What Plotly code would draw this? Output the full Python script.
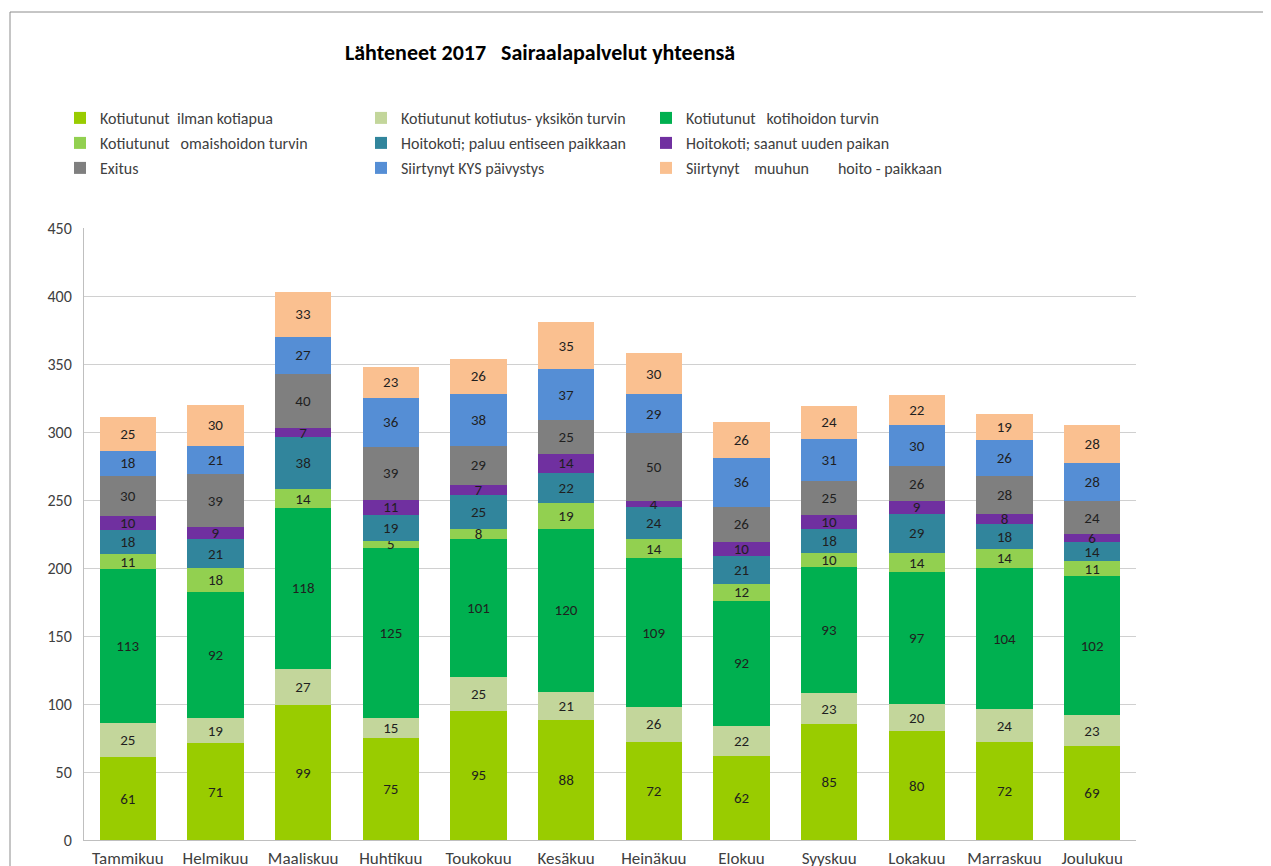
import plotly.graph_objects as go

# Months (x categories)
months = ["Tammikuu", "Helmikuu", "Maaliskuu", "Huhtikuu", "Toukokuu", "Kesäkuu",
          "Heinäkuu", "Elokuu", "Syyskuu", "Lokakuu", "Marraskuu", "Joulukuu"]

# Series values, bottom to top of each stack
ilman_kotiapua = [61, 71, 99, 75, 95, 88, 72, 62, 85, 80, 72, 69]
kotiutusyksikko = [25, 19, 27, 15, 25, 21, 26, 22, 23, 20, 24, 23]
kotihoito = [113, 92, 118, 125, 101, 120, 109, 92, 93, 97, 104, 102]
omaishoito = [11, 18, 14, 5, 8, 19, 14, 12, 10, 14, 14, 11]
hoitokoti_paluu = [18, 21, 38, 19, 25, 22, 24, 21, 18, 29, 18, 14]
hoitokoti_uusi = [10, 9, 7, 11, 7, 14, 4, 10, 10, 9, 8, 6]
exitus = [30, 39, 40, 39, 29, 25, 50, 26, 25, 26, 28, 24]
kys_paivystys = [18, 21, 27, 36, 38, 37, 29, 36, 31, 30, 26, 28]
muu_hoitopaikka = [25, 30, 33, 23, 26, 35, 30, 26, 24, 22, 19, 28]

sp = "\u00a0"
series = [
    ("Kotiutunut" + sp * 2 + "ilman kotiapua", ilman_kotiapua, "#99CC00"),
    ("Kotiutunut kotiutus- yksikön turvin", kotiutusyksikko, "#C3D69B"),
    ("Kotiutunut" + sp * 3 + "kotihoidon turvin", kotihoito, "#00B050"),
    ("Kotiutunut" + sp * 3 + "omaishoidon turvin", omaishoito, "#92D050"),
    ("Hoitokoti; paluu entiseen paikkaan", hoitokoti_paluu, "#31859C"),
    ("Hoitokoti; saanut uuden paikan", hoitokoti_uusi, "#7030A0"),
    ("Exitus", exitus, "#7F7F7F"),
    ("Siirtynyt KYS päivystys", kys_paivystys, "#558ED5"),
    ("Siirtynyt" + sp * 4 + "muuhun" + sp * 8 + "hoito - paikkaan", muu_hoitopaikka, "#FAC090"),
]

FONT = "Carlito, Open Sans, sans-serif"

fig = go.Figure()

# the page puts the figure 8px in from the top-left corner
OFF = 8
W, H = 1271 - OFF, 866 - OFF
L, T = 84 - OFF, 228 - OFF
R, B = W - (1136 - OFF), H - (840 - OFF)
pw, ph = W - L - R, H - T - B

# legend grid (page pixels): 3 columns x 3 rows
col_x = [100, 401, 686]   # where legend text starts
row_y = [118, 143, 168]   # legend row centres

layout_legends = {}
for i, (name, vals, color) in enumerate(series):
    key = "legend" if i == 0 else f"legend{i + 1}"
    fig.add_trace(
        go.Bar(
            x=months,
            y=vals,
            name=name,
            marker=dict(color=color, line=dict(width=0)),
            text=vals,
            textposition="inside",
            insidetextanchor="middle",
            textangle=0,
            textfont=dict(size=15, color="#1F1F1F", family=FONT),
            legend=key,
            showlegend=True,
        )
    )
    cx = col_x[i % 3] - OFF - 40
    cy = row_y[i // 3] - OFF
    layout_legends[key] = dict(
        x=(cx - L) / pw,
        y=(H - B - cy) / ph,
        xanchor="left",
        yanchor="middle",
        bgcolor="rgba(0,0,0,0)",
        font=dict(size=16, color="#404040", family=FONT),
        itemwidth=30,
    )

fig.update_layout(
    width=W,
    height=H,
    margin=dict(l=L, r=R, t=T, b=B, autoexpand=False),
    showlegend=True,
    barmode="stack",
    bargap=0.36,
    plot_bgcolor="white",
    paper_bgcolor="white",
    font=dict(family=FONT, color="#404040", size=16),
    uniformtext=dict(minsize=15, mode="show"),
    title=dict(
        text="<b>Lähteneet 2017" + sp * 3 + "Sairaalapalvelut yhteensä</b>",
        x=(540 - OFF) / W,
        xanchor="center",
        xref="container",
        y=1 - (52 - OFF) / H,
        yref="container",
        yanchor="middle",
        font=dict(size=22, color="black", family=FONT),
    ),
    xaxis=dict(
        showgrid=False,
        showline=True,
        linecolor="#BFBFBF",
        ticks="",
        ticklabelstandoff=3,
        tickfont=dict(size=17, color="#404040"),
    ),
    yaxis=dict(
        range=[0, 450],
        dtick=50,
        showgrid=True,
        gridcolor="#D0D0D0",
        showline=True,
        linecolor="#BFBFBF",
        zeroline=False,
        ticks="",
        ticklabelstandoff=8,
        tickfont=dict(size=16, color="#404040"),
    ),
    shapes=[
        dict(
            type="rect",
            xref="paper",
            yref="paper",
            x0=(10 - OFF - L) / pw,
            x1=(1290 - OFF - L) / pw,
            y0=-0.2,
            y1=(H - B - (12 - OFF)) / ph,
            line=dict(color="#8C8C8C", width=1),
            fillcolor="rgba(0,0,0,0)",
            layer="below",
        )
    ],
    **layout_legends,
)

fig.write_html("out.html")
